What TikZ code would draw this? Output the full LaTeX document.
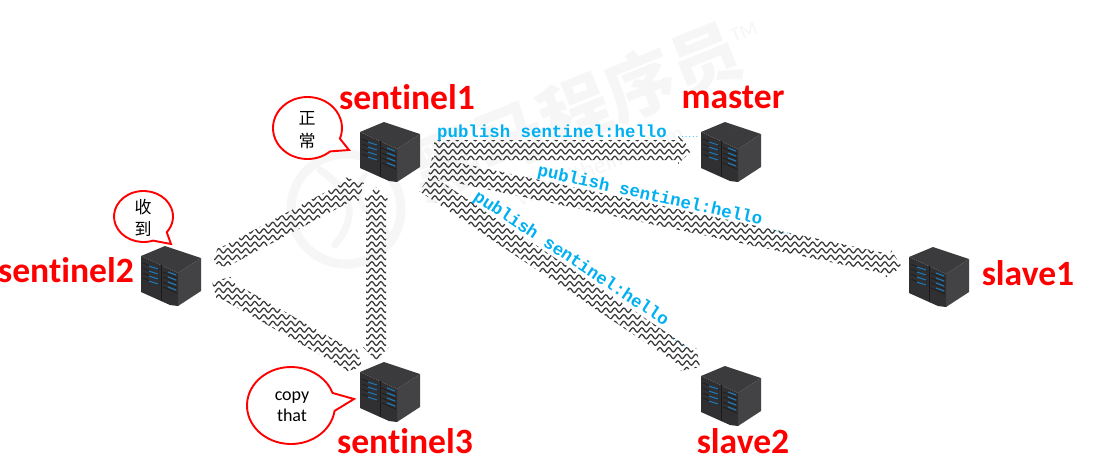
\documentclass[tikz,border=0pt]{standalone}
\usepackage{fontspec}
\setmainfont{Carlito}[Ligatures=NoCommon]
\newfontfamily\cjkfont{Noto Sans CJK SC}
\newfontfamily\monofont{Liberation Mono}
\usetikzlibrary{decorations.pathmorphing,calc}
\definecolor{pubcyan}{HTML}{00B0F0}
\definecolor{wm}{HTML}{F6F6F6}
\definecolor{srvfront}{HTML}{303032}
\definecolor{srvside}{HTML}{434345}
\definecolor{srvtop}{HTML}{3B3B3D}
\definecolor{srvbar}{HTML}{1E78B8}
\tikzset{
  wave/.style={decorate,decoration={snake,segment length=9pt,amplitude=2.2pt},line width=1.25pt,color=black!78},
  serverbox/.style={minimum width=60pt,minimum height=60pt,inner sep=0pt},
  title/.style={font=\fontsize{35.6}{35.6}\selectfont\bfseries,text=red,inner sep=0pt},
  pub/.style={font=\fontsize{17.4}{17.4}\selectfont\monofont\bfseries,text=pubcyan,inner sep=0pt},
  pubdots/.style={font=\fontsize{6}{6}\selectfont\monofont\bfseries,text=pubcyan,inner sep=0pt,anchor=base},
  bubble/.style={draw=red,line width=1.9pt,fill=white,line join=miter},
  say/.style={font=\fontsize{18}{21}\selectfont,align=center,inner sep=0pt,text=black},
  saycjk/.style={font=\fontsize{17}{22.5}\selectfont\cjkfont,align=center,inner sep=0pt,text=black},
  server/.pic={
    \fill[srvside] (7,-3)--(30,-18)--(30,15)--(7,30)--cycle;
    \fill[srvfront] (-30,-20)--(7,-3)--(7,30)--(-1,29)--(-30,16)--cycle;
    \fill[srvtop] (-30,-20)--(-6,-30)--(30,-18)--(7,-3)--cycle;
    \draw[black!75,line width=.4pt] (-11,-13)--(12,-24);
    \draw[black!90,line width=.6pt] (-10,-11)--(-10,25);
    \foreach \r in {0,1,2,3}{
      \draw[black!90,line width=.6pt] (-28,{-13+5*\r})--(-12,{-6+5*\r});
      \draw[black!90,line width=.6pt] (-8,{-4+5*\r})--(6,{2+5*\r});
      \draw[srvbar,line width=1.1pt] (-22,{-10+5*\r})--(-13,{-7+5*\r});
      \draw[srvbar,line width=1.1pt] (-3,{-4+5*\r})--(5,{-1+5*\r});
    }
  }
}
% #1 start, #2 tip, #3: 1 when the start carries a head too.
% The arrow is a block shape filled with a level wave pattern.
\newcommand\wavearrow[3]{%
  \path let \p1=(#1),\p2=(#2),\p3=($(#2)-(#1)$),\n1={atan2(\y3,\x3)},\n2={veclen(\x3,\y3)} in
    \pgfextra{\pgfmathsetmacro\tmpa{\n1}\global\let\bandang\tmpa
              \pgfmathsetmacro\tmpb{\n2}\global\let\bandlen\tmpb
              \pgfmathsetmacro\tmpc{9*floor((min(\x1,\x2)-27)/9)}\global\let\bandx\tmpc
              \pgfmathsetmacro\tmpd{max(\x1,\x2)+27}\global\let\bandxe\tmpd
              \pgfmathsetmacro\tmpe{6.6*floor((min(\y1,\y2)-27)/6.6)}\global\let\bandy\tmpe
              \pgfmathtruncatemacro\tmpf{(max(\y1,\y2)+27-\tmpe)/6.6}\global\let\bandn\tmpf};
  \begin{scope}[shift={(#1)},rotate=\bandang]
    \pgfmathsetmacro\bandneck{\bandlen-14}
    \ifnum#3=1
      \coordinate (p1) at (0,0); \coordinate (p2) at (14,-14); \coordinate (p3) at (14,-10);
      \coordinate (p9) at (14,10); \coordinate (p10) at (14,14);
    \else
      \coordinate (p1) at (0,-10); \coordinate (p2) at (0,-10); \coordinate (p3) at (0,-10);
      \coordinate (p9) at (0,10); \coordinate (p10) at (0,10);
    \fi
    \coordinate (p4) at (\bandneck,-10); \coordinate (p5) at (\bandneck,-14);
    \coordinate (p6) at (\bandlen,0);
    \coordinate (p7) at (\bandneck,14); \coordinate (p8) at (\bandneck,10);
  \end{scope}
  \begin{scope}
    \clip (p1)--(p2)--(p3)--(p4)--(p5)--(p6)--(p7)--(p8)--(p9)--(p10)--cycle;
    \foreach \k in {0,...,\bandn}{
      \draw[wave] (\bandx pt,{\bandy pt+6.6pt*\k})--(\bandxe pt,{\bandy pt+6.6pt*\k});
    }
  \end{scope}}
% centre, radii, tail start and end angle, tail tip
\newcommand\saybubble[8]{%
  \draw[bubble] (#7,#8)--({#1+#3*cos(#5)},{#2+#4*sin(#5)})
    arc[start angle=#5,end angle=#6,x radius=#3,y radius=#4]--cycle;}
\begin{document}
\begin{tikzpicture}[x=1pt,y=-1pt]
\useasboundingbox (0,0) rectangle (1094,459);
\fill[white] (0,0) rectangle (1094,459);
% watermark
\node[font=\fontsize{70}{70}\selectfont\cjkfont\bfseries,text=wm,rotate=22,inner sep=0pt] (wmark) at (575,111) {黑马程序员};
\node[font=\fontsize{24}{24}\selectfont,text=wm,rotate=22,inner sep=0pt] (wmurl) at (600,165) {www.itheima.com};
\node[font=\fontsize{20}{20}\selectfont,text=wm,rotate=22,inner sep=0pt] (wmtm) at (744,32) {TM};
\draw[wm,line width=9pt] (346,209) circle[radius=55];
\draw[wm,line width=7pt,line cap=round] (320,170) .. controls (350,190) and (360,215) .. (335,245);
\draw[wm,line width=5pt,line cap=round] (365,175) .. controls (345,200) and (375,220) .. (390,235);
% servers as anchors
\node[serverbox] (s1) at (390,152) {};
\node[serverbox] (s2) at (171,276) {};
\node[serverbox] (s3) at (390,392) {};
\node[serverbox] (master) at (731,152) {};
\node[serverbox] (slave1) at (939,277) {};
\node[serverbox] (slave2) at (731,396) {};
% connectors
\coordinate (aa) at ($(s1)+(44,-2)$);   \coordinate (ab) at ($(master)+(-39,-2)$);
\coordinate (ba) at ($(s1)+(40,15)$);   \coordinate (bb) at ($(slave1)+(-37,-10)$);
\coordinate (ca) at ($(s1)+(35,31)$);   \coordinate (cb) at ($(slave2)+(-31,-29)$);
\coordinate (da) at ($(s2)+(42,-13)$);  \coordinate (db) at ($(s1)+(-26,31)$);
\coordinate (ea) at ($(s2)+(41,6)$);    \coordinate (eb) at ($(s3)+(-28,-25)$);
\coordinate (fa) at ($(s1)+(-14,35)$);  \coordinate (fb) at ($(s3)+(-14,-32)$);
\wavearrow{aa}{ab}{0}
\wavearrow{ba}{bb}{0}
\wavearrow{ca}{cb}{0}
\wavearrow{da}{db}{1}
\wavearrow{ea}{eb}{1}
\wavearrow{fa}{fb}{1}
% server icons
\foreach \n in {s1,s2,s3,master,slave1,slave2}{\pic at (\n) {server};}
% speech bubbles
\saybubble{307.5}{128}{34.5}{31}{49}{380}{349}{150}
\saybubble{143.5}{216.5}{29.5}{25.5}{71}{398}{171}{244}
\saybubble{291}{405.5}{44}{38.5}{8}{341}{354}{399}
\node[saycjk] (say1) at (307,130) {正\\常};
\node[saycjk] (say2) at (143,218) {收\\到};
\node[say] (say3) at (292,407) {copy\\that};
% titles
\node[title] (t1) at (407,97) {sentinel1};
\node[title] (t2) at (66,270) {sentinel2};
\node[title] (t3) at (405,441) {sentinel3};
\node[title] (t4) at (733,97) {master};
\node[title] (t5) at (1028,273) {slave1};
\node[title] (t6) at (743,441) {slave2};
% message labels
\node[pub] (p1t) at (552,133) {publish sentinel:hello};
\node[pub,rotate=-12.5] (p2t) at (650,196) {publish sentinel:hello};
\node[pub,rotate=-33.5] (p3t) at (571,259) {publish sentinel:hello};
\node[pubdots] (d1) at (688,137) {......};
\node[pubdots,rotate=-14] (d2) at (782,233) {......};
\node[pubdots,rotate=-33.5] (d3) at (680,344) {......};
\end{tikzpicture}
\end{document}
